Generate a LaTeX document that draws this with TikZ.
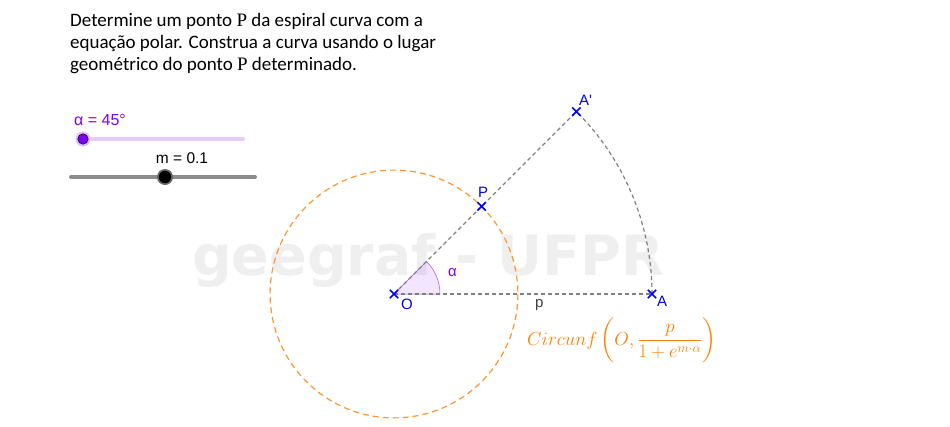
\documentclass[tikz,border=0pt]{standalone}
\usepackage{fontspec}
\usepackage{amsmath}
\usepackage{graphicx}
\setmainfont{Carlito}
\newfontfamily\lab{Liberation Sans}
\newfontfamily\wmfont{DejaVu Sans}
\newfontfamily\serifP{Liberation Serif}
\definecolor{ggpurple}{RGB}{127,0,255}
\definecolor{ggorange}{RGB}{255,128,0}
\definecolor{circorange}{RGB}{255,150,50}
\definecolor{ggblue}{RGB}{0,0,255}
\definecolor{gggray}{RGB}{128,128,128}
\definecolor{sldgray}{RGB}{140,140,140}
\definecolor{wmgray}{RGB}{239,239,239}
\usetikzlibrary{calc}
\tikzset{
  pt/.style={ggblue, line width=1.5pt},
  gline/.style={gggray, line width=1.2pt, dash pattern=on 4pt off 3pt},
  ptlabel/.style={font=\lab\fontsize{15}{18}\selectfont, text=ggblue, inner sep=0pt, anchor=base west},
}
\newcommand{\cross}[1]{\draw[pt] ($(#1)+(-4.2,-4.2)$) -- ($(#1)+(4.2,4.2)$) ($(#1)+(-4.2,4.2)$) -- ($(#1)+(4.2,-4.2)$);}
\begin{document}
\begin{tikzpicture}[x=1pt,y=-1pt]
\fill[white] (0,0) rectangle (950,426);
\useasboundingbox (0,0) rectangle (950,426);
% watermark
\node[font=\wmfont\bfseries\fontsize{55.5}{60}\selectfont, text=wmgray, anchor=base west, inner sep=0pt] (wm) at (192,275) {geegraf - UFPR};
% title
\node[font=\fontsize{19}{22.4}\selectfont, anchor=base west, align=left, inner sep=0pt] (title) at (70,70.8)
  {Determine um ponto {\serifP P} da espiral curva com a\\equação polar. Construa a curva usando o lugar\\geométrico do ponto {\serifP P} determinado.};
% sliders
\draw[ggpurple!20, line width=4pt, line cap=round] (80,139) coordinate (s1a) -- (243,139) coordinate (s1b);
\fill[ggpurple!25] (83,139) circle[radius=7.5];
\draw[black, fill=ggpurple, line width=0.6pt] (83,139) coordinate (k1) circle[radius=5.2];
\node[font=\lab\fontsize{16}{18}\selectfont, text=ggpurple, anchor=base west, inner sep=0pt] (alab) at (74,125) {α = 45°};
\draw[sldgray, line width=4pt, line cap=round] (71,177) coordinate (s2a) -- (255,177) coordinate (s2b);
\fill[gggray!80!black] (165,177) circle[radius=8];
\fill[black] (165,177) coordinate (k2) circle[radius=6.2];
\node[font=\lab\fontsize{15.5}{18}\selectfont, anchor=base, inner sep=0pt] (mlab) at (182,163) {m = 0.1};
% geometry
\coordinate (O) at (394,294);
\coordinate (A) at (652,294);
\coordinate (A') at (576.4,111.6);
\coordinate (P) at (481.6,206.4);
% sector
\fill[ggpurple, fill opacity=0.1] (O) -- ++(46,0) arc[start angle=0, end angle=-45, radius=46] -- cycle;
\draw[ggpurple!70, line width=0.5pt] (O) -- ++(46,0) arc[start angle=0, end angle=-45, radius=46] -- cycle;
% circle
\draw[circorange, line width=1.2pt, dash pattern=on 6pt off 4pt] (O) circle[radius=123.9];
% lines
\draw[gline] (O) -- (A');
\draw[gline] (O) -- (A);
\draw[gline] (A) arc[start angle=0, end angle=-45, radius=258];
% points
\cross{O}\cross{A}\cross{A'}\cross{P}
\node[ptlabel] (lO) at (401,309) {O};
\node[ptlabel] (lA) at (657,306) {A};
\node[ptlabel] (lAp) at (579,105) {A'};
\node[ptlabel] (lP) at (478,197) {P};
\node[font=\lab\fontsize{15}{18}\selectfont, text=ggpurple, anchor=base west, inner sep=0pt] (lalpha) at (448,276) {α};
\node[font=\lab\fontsize{15}{18}\selectfont, text=black!75, anchor=base west, inner sep=0pt] (lp) at (535,307) {p};
% formula
\node[font=\fontsize{17.28}{21}\selectfont, text=ggorange, anchor=base west, inner sep=0pt] (form) at (527,345)
  {\scalebox{1.09}{$Circunf\left(O,\dfrac{p}{1+e^{m\cdot\alpha}}\right)$}};
\end{tikzpicture}
\end{document}
